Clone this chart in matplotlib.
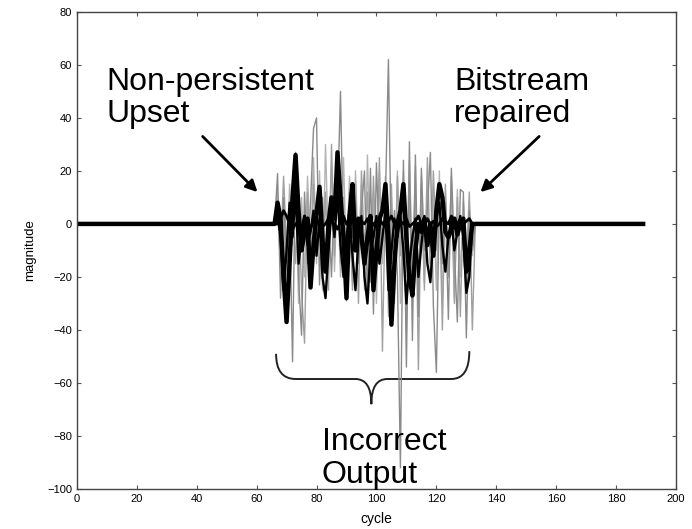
import matplotlib
matplotlib.use("Agg")
import matplotlib.pyplot as plt
import numpy as np
from matplotlib.path import Path
from matplotlib.patches import PathPatch

plt.rcParams['font.family'] = ['Liberation Sans', 'DejaVu Sans']

# cycles 0..189, upset between 67 and 133
n_cycles = 190
seg_start = 67

# thick black trace (cycles 67..133)
black_thick = [8, 2, -20, -37, -15, 10, 26, 5, -10, -3,
               2, -24, -8, 4, 14, -6, -18, 0, 10, 2,
               27, 10, -5, -28, 3, 15, -10, 2, -5, -15,
               -5, 3, -25, -10, 2, 5, 15, -5, -38, -15,
               0, 5, 15, -5, -20, -27, -10, 0, -3, 2,
               -8, 0, -12, 5, 15, 10, -3, -5, -2, 2,
               -4, 0, 2, -18, -10, 0, 0]

# medium black trace
black_mid = [3, -5, -25, -10, 8, -5, 12, -15, -5, 3,
             -8, -3, 5, -12, 2, -20, -28, -10, 5, -5,
             12, -8, -20, -5, 5, -12, -25, -5, 3, -20,
             -30, -10, -5, 3, -15, -5, 5, -25, -10, 2,
             -5, 3, -10, -30, -15, -5, 2, -20, -8, 3,
             -15, -22, -5, 2, 8, -8, -18, -5, 2, -10,
             -3, 3, -5, -26, -20, 0, 0]

# near-zero black wiggle
black_low = [0, 2, 5, 3, 0, -2, 0, 1, -2, 3,
             -6, -2, 2, 0, 1, -1, 0, 2, 1, 0,
             -2, 1, 3, 0, -1, 2, 0, -1, 1, 0,
             2, -2, 0, 1, 2, 0, -1, 1, 3, 0,
             -2, 1, 0, 2, -1, 0, 1, 3, 0, -1,
             2, 0, 1, -1, 0, 2, 1, 0, 3, 1,
             0, 2, 0, 1, 2, 0, 0]

# gray traces
gray_1 = [19, -28, 10, -15, 5, -52, 27, -20, -42, 12,
          -15, 8, 36, 40, -23, 10, -15, 5, -20, 15,
          8, 50, -10, -29, 12, -5, 8, -15, 5, 20,
          -29, 21, -34, 23, -10, 8, 10, 62, -15, 5,
          -20, -92, 24, -54, 31, -44, 26, -35, 21, -10,
          5, 27, -31, -56, 10, -15, 8, -36, 21, -10,
          -37, 13, 12, -43, 5, -10, 0]

gray_2 = [12, -18, 5, -25, 15, -8, 18, -30, 10, -20,
          18, -12, 25, -15, 20, -25, 30, -10, 22, -18,
          15, -20, 25, -15, 18, -22, 20, -12, 15, -25,
          26, -18, 12, -30, 20, -15, 18, -35, 10, -25,
          20, -30, 15, -20, 24, -15, 10, -28, 18, -22,
          15, -18, 12, -25, 20, -30, 10, -20, 15, -28,
          13, -20, 10, -25, 8, -12, 0]

gray_3 = [5, -12, 18, -8, -20, 14, -15, 10, -25, -45,
          12, -20, 15, -10, 8, -18, 12, -25, 30, -12,
          20, -15, 10, -20, 8, -25, 15, -30, 20, -10,
          12, -22, 18, -15, 25, -48, 12, -20, 15, -30,
          18, -12, 20, -40, 10, -20, 22, -55, 15, -25,
          25, -15, 20, -10, 12, -40, 15, -20, 18, -30,
          10, -35, 8, -15, 12, -40, 0]

cycle = np.arange(n_cycles)


def full_trace(seg):
    y = np.zeros(n_cycles)
    y[seg_start:seg_start + len(seg)] = seg
    return y


fig = plt.figure(figsize=(6.92, 5.29), dpi=100)
ax = fig.add_axes([0.111, 0.0756, 0.866, 0.902])

# gray traces underneath
for seg, col in [(gray_2, '#b4b4b4'), (gray_3, '#a0a0a0'), (gray_1, '#8a8a8a')]:
    ax.plot(cycle, full_trace(seg), color=col, lw=1.0)

ax.plot(cycle, full_trace(black_mid), color='black', lw=1.7)
ax.plot(cycle, full_trace(black_low), color='black', lw=2.0)
ax.plot(cycle, full_trace(black_thick), color='black', lw=3.2)

ax.set_xlim(0, 200)
ax.set_ylim(-100, 80)
ax.set_xticks(np.arange(0, 201, 20))
ax.set_yticks(np.arange(-100, 81, 20))
ax.tick_params(direction='in', top=True, right=True, labelsize=8, length=3,
               color='#555555')
for s in ax.spines.values():
    s.set_color('#444444')
    s.set_linewidth(1.0)

ax.set_xlabel('cycle', fontsize=10, labelpad=6)
ax.set_ylabel('magnitude', fontsize=9.5, labelpad=8)

# annotations
txt_kw = dict(fontsize=23, ha='left', va='center', linespacing=1.12)
ax.text(10, 47.5, 'Non-persistent\nUpset', **txt_kw)
ax.text(126, 47.5, 'Bitstream\nrepaired', **txt_kw)
ax.text(81.7, -88.5, 'Incorrect\nOutput', clip_on=False, **txt_kw)

arrow_kw = dict(arrowstyle='-|>', lw=2.0, color='black', mutation_scale=17,
                shrinkA=0, shrinkB=0)
ax.annotate('', xy=(60.3, 12), xytext=(42, 33), arrowprops=arrow_kw)
ax.annotate('', xy=(134.7, 12), xytext=(154.3, 33), arrowprops=arrow_kw)

# curly brace under the upset region
verts = [(66.5, -49), (66.5, -58.5), (73, -58.5),
         (93, -58.5),
         (98.3, -58.5), (98.3, -68),
         (98.3, -58.5), (103.6, -58.5),
         (125, -58.5),
         (131, -58.5), (131, -48)]
codes = [Path.MOVETO, Path.CURVE3, Path.CURVE3,
         Path.LINETO,
         Path.CURVE3, Path.CURVE3,
         Path.CURVE3, Path.CURVE3,
         Path.LINETO,
         Path.CURVE3, Path.CURVE3]
ax.add_patch(PathPatch(Path(verts, codes), fill=False, lw=1.4, edgecolor='#222222'))

fig.savefig('out.png', dpi=100)
